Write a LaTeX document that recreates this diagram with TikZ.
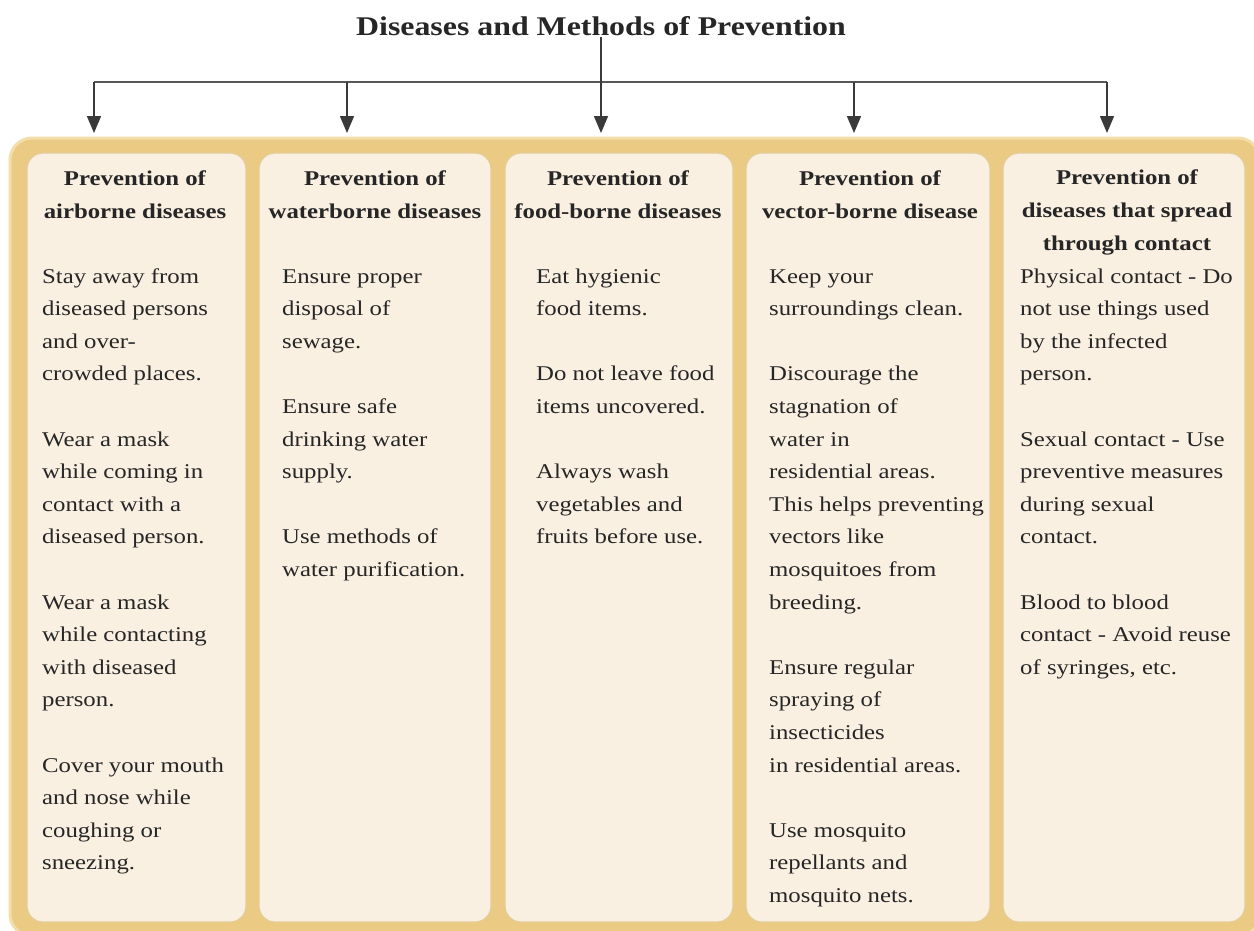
\documentclass[tikz,border=0pt]{standalone}
\usepackage{fontspec}
\setmainfont{Liberation Serif}[FakeStretch=1.18]
\usetikzlibrary{arrows.meta}
\definecolor{gold}{HTML}{EBCB83}
\definecolor{goldlight}{HTML}{F3DDA8}
\definecolor{cream}{HTML}{F9F0E1}
\definecolor{panelline}{HTML}{E3CC98}
\definecolor{ink}{HTML}{262626}
\definecolor{linec}{HTML}{3A3A3A}
\begin{document}
\begin{tikzpicture}[x=1pt,y=-1pt,
  outerbox/.style={draw=goldlight, line width=3pt, fill=gold, rounded corners=22pt, inner sep=0pt},
  panelbox/.style={draw=panelline, line width=1.2pt, fill=cream, rounded corners=16pt, inner sep=0pt, minimum height=769pt},
  headtext/.style={font=\bfseries\fontsize{21}{33}\selectfont, align=center, anchor=base, inner sep=0pt, text=ink},
  bodytext/.style={font=\fontsize{21}{32.6}\selectfont, align=left, anchor=base west, inner sep=0pt, text=ink},
  titletext/.style={font=\bfseries\fontsize{27}{32}\selectfont, anchor=base, inner sep=2pt, text=ink},
  conn/.style={draw=linec, line width=1.6pt},
  arr/.style={conn, -{Triangle[width=14pt,length=17pt]}},
]
\useasboundingbox (0,0) rectangle (1254,930);
\fill[white] (0,0) rectangle (1254,930);

% title
\node[titletext] (titl) at (601,35) {Diseases and Methods of Prevention};

% outer frame and panels
\node[outerbox, minimum width=1250pt, minimum height=798pt] (outer) at (635,537) {};
\node[panelbox, minimum width=219pt] (p1) at (136.5,537.5) {};
\node[panelbox, minimum width=232pt] (p2) at (375,537.5) {};
\node[panelbox, minimum width=228pt] (p3) at (619,537.5) {};
\node[panelbox, minimum width=244pt] (p4) at (868,537.5) {};
\node[panelbox, minimum width=242pt] (p5) at (1124,537.5) {};

% connectors
\coordinate (j1) at (94,82);
\coordinate (j2) at (347,82);
\coordinate (j4) at (854,82);
\coordinate (j5) at (1107,82);
\coordinate (e1) at (94,133);
\coordinate (e2) at (347,133);
\coordinate (e3) at (601,133);
\coordinate (e4) at (854,133);
\coordinate (e5) at (1107,133);
\draw[conn, draw=linec!85] (j1) -- (j5);
\draw[arr] (titl.south) -- (e3);
\draw[arr] (j1) -- (e1);
\draw[arr] (j2) -- (e2);
\draw[arr] (j4) -- (e4);
\draw[arr] (j5) -- (e5);

% headings (anchor = baseline of last line)
\node[headtext] (h1) at (135,218) {Prevention of\\airborne diseases};
\node[headtext] (h2) at (375,218) {Prevention of\\waterborne diseases};
\node[headtext] (h3) at (618,218) {Prevention of\\food-borne diseases};
\node[headtext] (h4) at (870,218) {Prevention of\\vector-borne disease};
\node[headtext] (h5) at (1127,250) {Prevention of\\diseases that spread\\through contact};

% bodies (anchor = baseline of last line; first line baseline at 283)
\node[bodytext] (b1) at (42,869.8) {Stay away from\\diseased persons\\and over-\\crowded places.\\[32.6pt]Wear a mask\\while coming in\\contact with a\\diseased person.\\[32.6pt]Wear a mask\\while contacting\\with diseased\\person.\\[32.6pt]Cover your mouth\\and nose while\\coughing or\\sneezing.};
\node[bodytext] (b2) at (282,576.4) {Ensure proper\\disposal of\\sewage.\\[32.6pt]Ensure safe\\drinking water\\supply.\\[32.6pt]Use methods of\\water purification.};
\node[bodytext] (b3) at (536,543.8) {Eat hygienic\\food items.\\[32.6pt]Do not leave food\\items uncovered.\\[32.6pt]Always wash\\vegetables and\\fruits before use.};
\node[bodytext] (b4) at (769,902.4) {Keep your\\surroundings clean.\\[32.6pt]Discourage the\\stagnation of\\water in\\residential areas.\\This helps preventing\\vectors like\\mosquitoes from\\breeding.\\[32.6pt]Ensure regular\\spraying of\\insecticides\\in residential areas.\\[32.6pt]Use mosquito\\repellants and\\mosquito nets.};
\node[bodytext] (b5) at (1020,674.2) {Physical contact - Do\\not use things used\\by the infected\\person.\\[32.6pt]Sexual contact - Use\\preventive measures\\during sexual\\contact.\\[32.6pt]Blood to blood\\contact - Avoid reuse\\of syringes, etc.};
\end{tikzpicture}
\end{document}
